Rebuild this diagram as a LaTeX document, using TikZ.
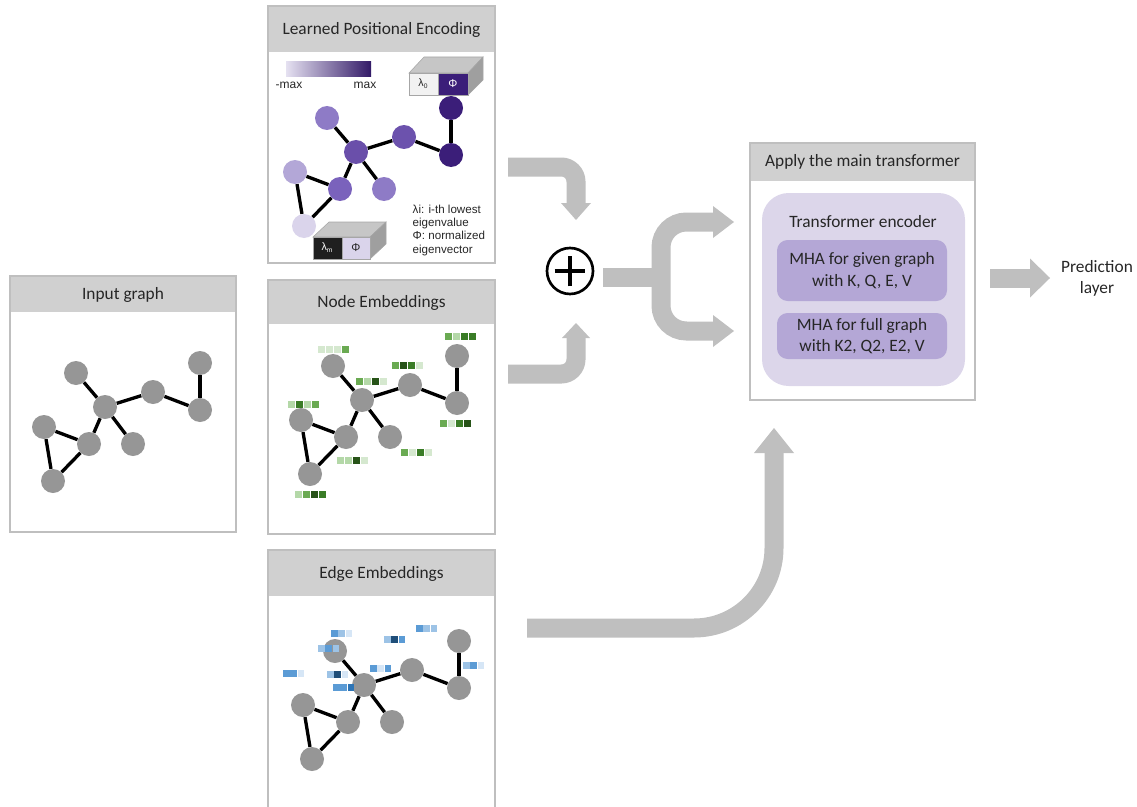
\documentclass[tikz,border=0pt]{standalone}
\usepackage{fontspec}
\setmainfont{Carlito}
\newfontfamily\arialfont{Liberation Sans}

\definecolor{txt}{HTML}{262626}
\definecolor{headgray}{HTML}{D0D0D0}
\definecolor{panelborder}{HTML}{BFBFBF}
\definecolor{nodegray}{HTML}{969696}
\definecolor{arrowgray}{HTML}{BFBFBF}
\definecolor{encfill}{HTML}{DCD6EA}
\definecolor{mhafill}{HTML}{B4A7D6}
% purple scale for the positional encoding
\definecolor{pu1}{HTML}{DAD4EB}
\definecolor{pu2}{HTML}{B3A7D7}
\definecolor{pu3}{HTML}{8E7BC6}
\definecolor{pu4}{HTML}{7A62BC}
\definecolor{pu5}{HTML}{6A4FAA}
\definecolor{pu6}{HTML}{3B1E79}
% greens for node embeddings
\definecolor{gVL}{HTML}{D5E8CF}
\definecolor{gL}{HTML}{B4D8A8}
\definecolor{gM}{HTML}{6AAA52}
\definecolor{gD}{HTML}{3A7C26}
\definecolor{gDD}{HTML}{275318}
% blues for edge embeddings
\definecolor{bVL}{HTML}{D6E6F6}
\definecolor{bL}{HTML}{9DC3E6}
\definecolor{bM}{HTML}{5B9BD5}
\definecolor{bD}{HTML}{2E75B6}
\definecolor{bDD}{HTML}{1F4E79}

\colorlet{mol-a}{nodegray}\colorlet{mol-b}{nodegray}\colorlet{mol-c}{nodegray}
\colorlet{mol-d}{nodegray}\colorlet{mol-e}{nodegray}\colorlet{mol-f}{nodegray}
\colorlet{mol-g}{nodegray}\colorlet{mol-h}{nodegray}\colorlet{mol-i}{nodegray}

% the small molecule-like graph; #1 name prefix, #2/#3 shift in px
\newcommand{\drawmol}[3]{%
  \begin{scope}[shift={(#2,#3)}]
    \foreach \nm/\px/\py in {a/76/373,b/105/407,c/153/392,d/200/410,e/200/363,
                             f/44/427,g/89/444,h/53/481,i/133/444}
      {\node[gnode, fill=mol-\nm] (#1\nm) at (\px,\py) {};}
  \end{scope}
  \foreach \u/\v in {a/b,b/c,c/d,d/e,b/g,b/i,f/g,f/h,g/h}
    {\draw[bond] (#1\u) -- (#1\v);}
}

% a row of small coloured squares; #1 x, #2 y, #3 size, #4 pitch, #5 colours
\newcommand{\embbar}[5]{%
  \foreach \cc [count=\k from 0] in {#5}
    {\fill[\cc] (#1+\k*#4,#2) rectangle ++(#3,#3);}
}

\begin{document}
\begin{tikzpicture}[x=0.75pt,y=-0.75pt,
  panelline/.style={draw=panelborder, line width=0.8pt},
  headtext/.style={font=\fontsize{13}{15}\selectfont, text=txt},
  bodytext/.style={font=\fontsize{13}{16}\selectfont, text=txt, align=center},
  smalltext/.style={font=\arialfont\fontsize{8.7}{10}\selectfont, text=txt, align=left},
  gnode/.style={circle, inner sep=0pt, minimum size=18pt, draw=none},
  bond/.style={line width=2.5pt, black},
  shaft/.style={draw=arrowgray, line width=14.25pt},
  tipfill/.style={fill=arrowgray},
  mha/.style={fill=mhafill, rounded corners=8pt, inner sep=0pt,
              minimum width=170*0.75pt, align=center,
              font=\fontsize{13}{16}\selectfont, text=txt},
  boxface/.style={draw=gray!70, line width=0.4pt},
]
\useasboundingbox (0,0) rectangle (1137,806);

% ---------------- Input graph ----------------
\fill[headgray] (10,276) rectangle (236,312);
\draw[panelline] (10,276) rectangle (236,532);
\node[headtext] (inhead) at (123,295) {Input graph};
\drawmol{in}{0}{0}

% ---------------- Learned positional encoding ----------------
\fill[headgray] (268,6) rectangle (495,52);
\draw[panelline] (268,6) rectangle (495,263);
\node[headtext] (lpehead) at (381.5,30) {Learned Positional Encoding};
\shade[left color=pu1!70!white, right color=pu6!85!black] (286,62) rectangle (371,77);
\node[font=\arialfont\fontsize{9}{10}\selectfont, text=txt] (minlab) at (289,85) {-max};
\node[font=\arialfont\fontsize{9}{10}\selectfont, text=txt] (maxlab) at (365,85) {max};
\begin{scope}
  \colorlet{mol-a}{pu3}\colorlet{mol-b}{pu5}\colorlet{mol-c}{pu5!85!pu4}
  \colorlet{mol-d}{pu6}\colorlet{mol-e}{pu6}\colorlet{mol-f}{pu2}
  \colorlet{mol-g}{pu4}\colorlet{mol-h}{pu1}\colorlet{mol-i}{pu3}
  \drawmol{pe}{251}{-255}
\end{scope}
% eigenvector block, top
\fill[gray!45, boxface] (409,73) -- (424,57) -- (483,57) -- (468,73) -- cycle;
\fill[gray!75, boxface] (468,73) -- (483,57) -- (483,80) -- (468,95) -- cycle;
\fill[black!5, boxface] (409,73) rectangle (438,95);
\fill[pu6, boxface] (438,73) rectangle (468,95);
\node[font=\arialfont\fontsize{8}{9}\selectfont, text=txt] (lz) at (423,84) {λ\raisebox{-0.4ex}{\fontsize{5}{6}\selectfont 0}};
\node[font=\arialfont\fontsize{8.5}{9}\selectfont, text=white] (phz) at (453,84) {Φ};
% eigenvector block, bottom
\fill[gray!45, boxface] (313,237) -- (329,222) -- (386,222) -- (370,237) -- cycle;
\fill[gray!75, boxface] (370,237) -- (386,222) -- (386,244) -- (370,259) -- cycle;
\fill[black!88, boxface] (313,237) rectangle (342,259);
\fill[pu1, boxface] (342,237) rectangle (370,259);
\node[font=\arialfont\fontsize{8}{9}\selectfont, text=white] (lm) at (327,248) {λ\raisebox{-0.4ex}{\fontsize{5}{6}\selectfont m}};
\node[font=\arialfont\fontsize{8.5}{9}\selectfont, text=txt] (phm) at (356,248) {Φ};
\node[smalltext, anchor=north west] (legend) at (408,200)
  {λi: i-th lowest\\eigenvalue\\Φ: normalized\\eigenvector};

% ---------------- Node embeddings ----------------
\fill[headgray] (268,280) rectangle (495,324);
\draw[panelline] (268,280) rectangle (495,534);
\node[headtext] (nehead) at (381.5,303) {Node Embeddings};
\drawmol{ne}{257}{-7}
\embbar{318}{346}{7}{8}{gVL,gVL,gVL,gM}
\embbar{445}{333}{7}{8}{gM,gL,gD,gD}
\embbar{392}{362}{7}{8}{gM,gDD,gD,gVL}
\embbar{356}{378}{7}{8}{gM,gL,gDD,gVL}
\embbar{288}{401}{7}{8}{gL,gD,gL,gM}
\embbar{440}{420}{7}{8}{gM,gVL,gD,gDD}
\embbar{401}{449}{7}{8}{gM,gVL,gD,gVL}
\embbar{337}{457}{7}{8}{gL,gL,gDD,gVL}
\embbar{295}{491}{7}{8}{gL,gM,gDD,gD}

% ---------------- Edge embeddings ----------------
\fill[headgray] (268,550) rectangle (495,596);
\draw[panelline] (268,810) -- (268,550) -- (495,550) -- (495,810);
\node[headtext] (eehead) at (381.5,574) {Edge Embeddings};
\drawmol{ee}{259}{278}
\embbar{331}{630}{6.5}{7.3}{bM,bL,bVL}
\embbar{318}{645}{6.5}{7.3}{bL,bM,bL}
\embbar{384}{636}{6.5}{7.3}{bL,bDD,bM}
\embbar{416}{625}{6.5}{7.3}{bM,bL,bL}
\embbar{463}{662}{6.5}{7.3}{bL,bM,bVL}
\embbar{370}{665}{6.5}{7.3}{bM,bVL,bM}
\embbar{283}{670}{6.5}{7.3}{bM,bM,bVL}
\embbar{327}{671}{6.5}{7.3}{bL,bDD,bVL}
\embbar{333}{684}{6.5}{7.3}{bM,bM,bD}

% ---------------- Sum of encodings ----------------
\node[circle, draw=black, line width=2pt, minimum size=34.5pt, inner sep=0pt] (plus) at (570,271) {};
\draw[line width=3pt] ([xshift=-11.5pt]plus.center) -- ([xshift=11.5pt]plus.center);
\draw[line width=3pt] ([yshift=-11.5pt]plus.center) -- ([yshift=11.5pt]plus.center);

\coordinate (lpeout) at (508,167);
\coordinate (lpetip) at (576,220);
\draw[shaft, rounded corners=11pt] (lpeout) -- (576,167) -- (576,204);
\fill[tipfill] (lpetip) -- ++(-15,-17) -- ++(30,0) -- cycle;

\coordinate (neout) at (508,374);
\coordinate (netip) at (576,323);
\draw[shaft, rounded corners=11pt] (neout) -- (576,374) -- (576,337);
\fill[tipfill] (netip) -- ++(-14,15) -- ++(28,0) -- cycle;

% ---------------- Split into the two attention blocks ----------------
\coordinate (sumout) at (603,277);
\coordinate (tiptop) at (734,222);
\coordinate (tipbot) at (734,331);
\draw[shaft] (sumout) -- (661,277);
\draw[shaft, rounded corners=19pt] (714,222) -- (661,222) -- (661,331) -- (714,331);
\fill[tipfill] (tiptop) -- ++(-21,-16) -- ++(0,32) -- cycle;
\fill[tipfill] (tipbot) -- ++(-21,-16) -- ++(0,32) -- cycle;

% ---------------- Edge embeddings into the transformer ----------------
\coordinate (eeout) at (527,628);
\coordinate (eetip) at (774,428);
\draw[shaft, rounded corners=60pt] (eeout) -- (774,628) -- (774,452);
\fill[tipfill] (eetip) -- ++(-20,25) -- ++(40,0) -- cycle;

% ---------------- Main transformer ----------------
\fill[headgray] (750,143) rectangle (975,181);
\draw[panelline] (750,143) rectangle (975,400);
\node[headtext] (trhead) at (862.5,162) {Apply the main transformer};
\fill[encfill, rounded corners=20pt] (762,193) rectangle (965,386);
\node[bodytext] (enclab) at (863,222) {Transformer encoder};
\node[mha, minimum height=61*0.75pt] (mha1) at (862,270.5) {MHA for given graph\\with K, Q, E, V};
\node[mha, minimum height=46*0.75pt] (mha2) at (862,336) {MHA for full graph\\with K2, Q2, E2, V};

% ---------------- Prediction ----------------
\coordinate (trout) at (990,278);
\coordinate (prtip) at (1050,278);
\draw[shaft] (trout) -- (1031,278);
\fill[tipfill] (prtip) -- ++(-20,-19.5) -- ++(0,39) -- cycle;
\node[bodytext] (pred) at (1097,278.5) {Prediction\\layer};

\end{tikzpicture}
\end{document}
